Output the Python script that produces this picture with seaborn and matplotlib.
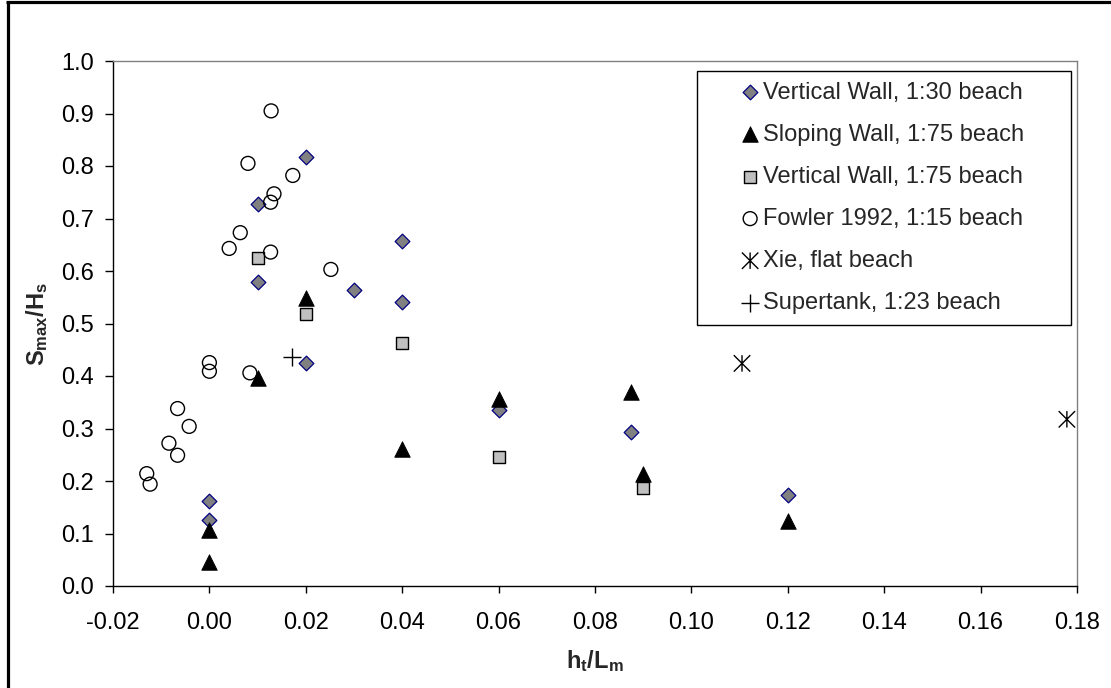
import numpy as np
import pandas as pd
import matplotlib
matplotlib.use("Agg")
import matplotlib.pyplot as plt
import seaborn as sns
from matplotlib.path import Path
from matplotlib.lines import Line2D
from matplotlib.ticker import MultipleLocator, FormatStrFormatter

# ---------------- data ----------------
vw30_x = [0.0, 0.0, 0.01, 0.01, 0.02, 0.02, 0.03, 0.04, 0.04, 0.06, 0.0875, 0.12]
vw30_y = [0.162, 0.125, 0.727, 0.579, 0.818, 0.424, 0.563, 0.657, 0.541, 0.336, 0.293, 0.173]

sw75_x = [0.0, 0.0, 0.01, 0.02, 0.04, 0.06, 0.0875, 0.09, 0.12]
sw75_y = [0.107, 0.046, 0.397, 0.549, 0.261, 0.357, 0.369, 0.213, 0.123]

vw75_x = [0.01, 0.02, 0.04, 0.06, 0.09]
vw75_y = [0.624, 0.519, 0.463, 0.245, 0.186]

fowler_x = [0.0128, 0.0080, 0.0173, 0.0134, 0.0127, 0.0064, 0.0041, 0.0127, 0.0252,
            0.0, 0.0, 0.0084, -0.0066, -0.0042, -0.0084, -0.0066, -0.0130, -0.0123]
fowler_y = [0.905, 0.805, 0.782, 0.747, 0.731, 0.673, 0.643, 0.636, 0.603,
            0.4255, 0.409, 0.406, 0.338, 0.304, 0.272, 0.249, 0.214, 0.194]

xie_x = [0.1105, 0.1779]
xie_y = [0.424, 0.3175]

super_x = [0.0172]
super_y = [0.436]

labels = ["Vertical Wall, 1:30 beach", "Sloping Wall, 1:75 beach",
          "Vertical Wall, 1:75 beach", "Fowler 1992, 1:15 beach",
          "Xie, flat beach", "Supertank, 1:23 beach"]

x_ticks = [-0.02, 0.0, 0.02, 0.04, 0.06, 0.08, 0.10, 0.12, 0.14, 0.16, 0.18]
y_ticks = [0.0, 0.1, 0.2, 0.3, 0.4, 0.5, 0.6, 0.7, 0.8, 0.9, 1.0]

# ---------------- style ----------------
sns.set_style("ticks")
plt.rcParams['font.family'] = ['Liberation Sans', 'DejaVu Sans']
plt.rcParams['mathtext.fontset'] = 'custom'
plt.rcParams['mathtext.rm'] = 'Liberation Sans'
plt.rcParams['mathtext.it'] = 'Liberation Sans:italic'
plt.rcParams['mathtext.bf'] = 'Liberation Sans:bold'

W, H = 1111, 688
fig = plt.figure(figsize=(W / 100, H / 100), dpi=100)
fig.patch.set_facecolor('white')
ax = fig.add_axes([113 / W, 1 - 586 / H, (1077 - 113) / W, (586 - 61) / H])

# asterisk marker (X plus vertical bar)
star_path = Path([(-1, -1), (1, 1), (-1, 1), (1, -1), (0, -1), (0, 1)],
                 [Path.MOVETO, Path.LINETO, Path.MOVETO, Path.LINETO, Path.MOVETO, Path.LINETO])

series = [
    (vw30_x, vw30_y, labels[0], dict(marker='D', s=56, facecolor='#808080', edgecolor='#000080', linewidth=0.9)),
    (sw75_x, sw75_y, labels[1], dict(marker='^', s=125, facecolor='black', edgecolor='black', linewidth=0.6)),
    (vw75_x, vw75_y, labels[2], dict(marker='s', s=85, facecolor='#C0C0C0', edgecolor='black', linewidth=1.0)),
    (fowler_x, fowler_y, labels[3], dict(marker='o', s=100, facecolor='none', edgecolor='black', linewidth=1.0)),
    (xie_x, xie_y, labels[4], dict(marker=star_path, s=140, facecolor='none', edgecolor='black', linewidth=1.0)),
    (super_x, super_y, labels[5], dict(marker='+', s=170, color='black', linewidth=1.0)),
]

for i, (xs, ys, lab, kw) in enumerate(series):
    df = pd.DataFrame({'x': xs, 'y': ys})
    sns.scatterplot(data=df, x='x', y='y', ax=ax, label=lab, zorder=3 + i, **kw)

ax.set_xlim(-0.02, 0.18)
ax.set_ylim(0.0, 1.0)
ax.set_xticks(x_ticks)
ax.set_yticks(y_ticks)
ax.xaxis.set_major_formatter(FormatStrFormatter('%.2f'))
ax.yaxis.set_major_formatter(FormatStrFormatter('%.1f'))

for side in ['left', 'bottom']:
    ax.spines[side].set_color('black')
    ax.spines[side].set_linewidth(1.0)
for side in ['top', 'right']:
    ax.spines[side].set_visible(True)
    ax.spines[side].set_color('#808080')
    ax.spines[side].set_linewidth(1.0)

ax.tick_params(axis='x', direction='out', length=5, width=1.0, labelsize=17, pad=14, colors='black')
ax.tick_params(axis='y', direction='out', length=5.5, width=1.0, labelsize=17, pad=8, colors='black')
ax.tick_params(top=False, right=False)

ax.set_xlabel(r'$\mathbf{h_t/L_m}$', fontsize=17)
ax.set_ylabel(r'$\mathbf{S_{max}/H_s}$', fontsize=17)
ax.xaxis.set_label_coords(0.5, (586 - 648) / 525)
ax.yaxis.set_label_coords((50 - 113) / 964, 0.5)

leg = ax.legend(loc='upper left',
                bbox_to_anchor=(697 / W, 1 - 320 / H, 374 / W, 249 / H),
                bbox_transform=fig.transFigure, mode='expand',
                borderaxespad=0, fontsize=17, frameon=True, fancybox=False,
                shadow=False, framealpha=1, edgecolor='black',
                borderpad=0.45, labelspacing=0.85, handlelength=3.6,
                handletextpad=-1.25, scatterpoints=1)
leg.get_frame().set_linewidth(1.0)
leg.set_zorder(20)

# outer chart border (cropped: only top and left visible)
fig.add_artist(Line2D([7.5 / W, 7.5 / W], [0, 1 - 1.5 / H], color='black', linewidth=2.3,
                      transform=fig.transFigure, solid_capstyle='butt'))
fig.add_artist(Line2D([6.3 / W, 1], [1 - 1.5 / H, 1 - 1.5 / H], color='black', linewidth=2.3,
                      transform=fig.transFigure, solid_capstyle='butt'))

fig.savefig('out.png', dpi=100, facecolor='white')
